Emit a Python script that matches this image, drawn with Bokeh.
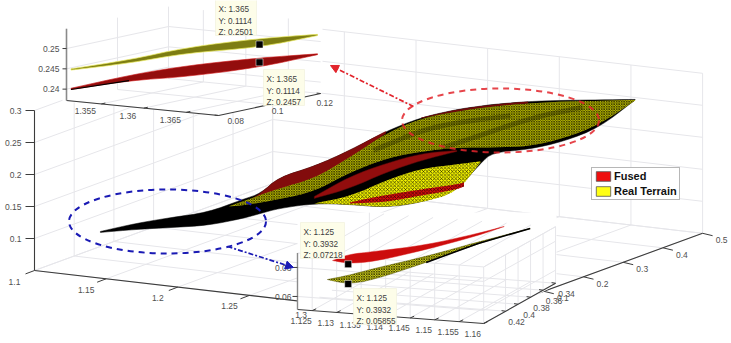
import numpy as np
from bokeh.plotting import figure
from bokeh.embed import file_html
from bokeh.resources import INLINE
from bokeh.core.properties import value
from bokeh.models import Arrow, NormalHead, Legend, LegendItem

# ---------- tick values ----------
MAIN_X = [1.1, 1.15, 1.2, 1.25, 1.3, 1.35, 1.4]
MAIN_Y = [-0.1, 0.0, 0.1, 0.2, 0.3, 0.4, 0.5]
MAIN_Z = [0.05, 0.1, 0.15, 0.2, 0.25, 0.3]
MAIN_X_LABELS = ["1.1", "1.15", "1.2", "1.25", "1.3"]
MAIN_Y_LABELS = {0.1: "0.1", 0.2: "0.2", 0.3: "0.3", 0.4: "0.4", 0.5: "0.5"}
MAIN_Z_LABELS = {0.1: "0.1", 0.15: "0.15", 0.2: "0.2", 0.25: "0.25", 0.3: "0.3"}

UP_X = [1.355, 1.36, 1.365]
UP_Y = [0.08, 0.1, 0.12]
UP_Z = [0.24, 0.245, 0.25]
UP_X_LABELS = ["1.355", "1.36", "1.365"]
UP_Y_LABELS = ["0.08", "0.1", "0.12"]
UP_Z_LABELS = ["0.24", "0.245", "0.25"]

LOW_X = [1.125, 1.13, 1.135, 1.14, 1.145, 1.15, 1.155, 1.16]
LOW_Y = [0.34, 0.36, 0.38, 0.4, 0.42]
LOW_Z = [0.06, 0.08]
LOW_X_LABELS = ["1.125", "1.13", "1.135", "1.14", "1.145", "1.15", "1.155", "1.16"]
LOW_Y_LABELS = ["0.34", "0.36", "0.38", "0.4", "0.42"]
LOW_Z_LABELS = ["0.06", "0.08"]

# ---------- main surface values (x, z along the sheet) ----------
sil_x = [1.10, 1.12, 1.14, 1.16, 1.18, 1.19, 1.20, 1.22, 1.24, 1.26, 1.28, 1.30, 1.3132, 1.32, 1.34, 1.36, 1.38, 1.40]
sil_top = [.0734, .0872, .0977, .1067, .1283, .1383, .1638, .1822, .2084, .2392, .2623, .2761, .2820, .2850, .2909, .2938, .2958, .2977]
sil_bot = [.0719, .0778, .0820, .0864, .0986, .1070, .1153, .1244, .1241, .1205, .1295, .1495, .1925, .2100, .2159, .2297, .2528, .2969]

olive_x = [1.172, 1.18, 1.20, 1.22, 1.24, 1.26, 1.28, 1.30, 1.32, 1.34, 1.36, 1.38, 1.40]
olive_top = [.1169, .1252, .1466, .1634, .1975, .2361, .2608, .2730, .2819, .2878, .2922, .2942, .2969]
olive_bot = [.1169, .1189, .1294, .1431, .1741, .1970, .2092, .2167, .2178, .2206, .2344, .2575, .2961]

hump_x = [1.18, 1.19, 1.20, 1.22, 1.24, 1.26]
hump_top = [.1205, .1383, .1638, .1822, .2084, .2392]
hump_bot = [.1205, .1336, .1450, .1619, .1959, .2361]

rim_x = [1.28, 1.30, 1.32, 1.34]
rim_top = [.2623, .2761, .2850, .2909]
rim_bot = [.2608, .2730, .2819, .2878]

band_x = [1.22, 1.24, 1.26, 1.28, 1.30]
band_top = [.1353, .1678, .1892, .2061, .2120]
band_bot = [.1322, .1491, .1752, .1952, .2105]

lobe_x = [1.22, 1.24, 1.26, 1.28, 1.30, 1.3132]
lobe_top = [.1244, .1366, .1627, .1827, .1902, .1956]
lobe_bot = [.1244, .1241, .1205, .1295, .1464, .1941]

stripe_x = [1.24, 1.26, 1.28, 1.30, 1.304]
stripe_top = [.1272, .1400, .1498, .1589, .1622]
stripe_bot = [.1256, .1288, .1405, .1511, .1559]

streak_a_x = [1.292, 1.3048, 1.3424, 1.3705]
streak_a_z = [.2159, .2280, .2661, .2834]
streak_b_x = [1.2532, 1.2801, 1.2998, 1.3301]
streak_b_z = [.2092, .2420, .2556, .2681]

# ---------- upper inset ----------
up_s_x = [1.352, 1.356, 1.36, 1.365, 1.369]
up_real_top = [.2441, .2463, .2494, .2516, .2526]
up_real_bot = [.2438, .2455, .2480, .2494, .2523]
up_fused_top = [.2393, .2425, .2449, .2468, .2478]
up_fused_bot = [.2390, .2412, .2422, .2445, .2476]

# ---------- lower inset ----------
low_f_x = [1.122, 1.125, 1.13, 1.14, 1.15, 1.155]
low_f_top = [.0747, .0789, .0809, .0854, .0934, .0982]
low_f_bot = [.0747, .0727, .0740, .0823, .0920, .0982]
low_r_x = [1.121, 1.125, 1.13, 1.14, 1.15, 1.16]
low_r_top = [.0616, .0644, .0692, .0775, .0875, .0968]
low_r_bot = [.0616, .0585, .0616, .0734, .0865, .0968]

# ---------- data tips ----------
TIP_X = ["1.365", "1.365", "1.125", "1.125"]
TIP_Y = ["0.1114", "0.1114", "0.3932", "0.3932"]
TIP_Z = ["0.2501", "0.2457", "0.07218", "0.05855"]

LEGEND_NAMES = ["Fused", "Real Terrain"]

FONT = value("Liberation Sans")
GRID = "#e6e6ea"
AXC = "#3c3c3c"
TXT = "#505050"
BLUE = "#1a1ab4"
RED = "#e2242c"


# ---------- projections of the three 3-D boxes ----------
def main_p(x, y, z):
    x, y, z = map(lambda v: np.asarray(v, float), (x, y, z))
    return (34 + 1433 * (x - 1.1) + 397 * (y + 0.1),
            270 + 166 * (x - 1.1) - 145 * (y + 0.1) - 640 * (z - 0.05))


def main_sheet(x, z):
    x = np.asarray(x, float)
    return main_p(x, 0.066 + 0.88 * (x - 1.1), z)


def up_p(x, y, z):
    x, y, z = map(lambda v: np.asarray(v, float), (x, y, z))
    return (66 + 8500 * (x - 1.3509) + 2550 * (y - 0.08),
            100 + 838 * (x - 1.3509) - 550 * (y - 0.08) - 4060 * (z - 0.2372))


def up_sheet(x, z):
    return (259 + 14500 * (np.asarray(x, float) - 1.365),
            44 - 4060 * (np.asarray(z, float) - 0.2501))


def low_p(x, y, z):
    x, y, z = map(lambda v: np.asarray(v, float), (x, y, z))
    return (297 + 4900 * (x - 1.122) - 625 * (y - 0.455),
            309 + 368 * (x - 1.122) + 350 * (y - 0.455) - 1450 * (z - 0.051))


def low_sheet(x, z):
    return (347.7 + 5200 * (np.asarray(x, float) - 1.125),
            263.7 - 1450 * (np.asarray(z, float) - 0.07218))


def soften(sx, sy, rounds=2):
    """Round the corners of a drawn outline; its end points stay where they are."""
    a = np.column_stack([sx, sy])
    for _ in range(rounds):
        q = 0.75 * a[:-1] + 0.25 * a[1:]
        r = 0.25 * a[:-1] + 0.75 * a[1:]
        mid = np.empty((2 * len(q), 2))
        mid[0::2], mid[1::2] = q, r
        a = np.vstack([a[:1], mid, a[-1:]])
    return a[:, 0], a[:, 1]


p = figure(width=731, height=343, x_range=(0, 731), y_range=(343, 0),
           output_backend="svg", toolbar_location=None, min_border=0,
           background_fill_color="white", outline_line_color=None,
           styles={"position": "absolute", "left": "0px", "top": "0px"})
p.axis.visible = False
p.grid.visible = False


def segs(proj, pairs, color=GRID, width=1.0):
    xs, ys = [], []
    for a, b in pairs:
        sa, sb = proj(*a), proj(*b)
        xs.append([float(sa[0]), float(sb[0])])
        ys.append([float(sa[1]), float(sb[1])])
    p.multi_line(xs, ys, line_color=color, line_width=width)


def labels(xs, ys, texts, align="center", size="8.5px", color=TXT):
    p.text(x=list(map(float, xs)), y=list(map(float, ys)), text=list(texts),
           text_font=FONT, text_font_size=value(size), text_color=color,
           text_align=align, text_baseline="middle")


def band(proj, x, top, bot, **kw):
    sx1, sy1 = soften(*proj(x, top))
    sx2, sy2 = soften(*proj(x, bot))
    return p.patch(np.r_[sx1, sx2[::-1]], np.r_[sy1, sy2[::-1]], **kw)


MESH_FINE = dict(hatch_pattern="diagonal_cross", hatch_color="#2a2a00", hatch_scale=2.5, hatch_weight=0.75)
MESH_WIDE = dict(hatch_pattern="diagonal_cross", hatch_color="black", hatch_scale=3.6, hatch_weight=0.6)

# ---------- main box ----------
x0, x1, y0, y1, z0, z1 = MAIN_X[0], MAIN_X[-1], MAIN_Y[0], MAIN_Y[-1], MAIN_Z[0], MAIN_Z[-1]
grid = []
for v in MAIN_X:
    grid += [((v, y0, z0), (v, y1, z0)), ((v, y1, z0), (v, y1, z1))]
for v in MAIN_Y:
    grid += [((x0, v, z0), (x1, v, z0)), ((x0, v, z0), (x0, v, z1))]
for v in MAIN_Z:
    grid += [((x0, y0, v), (x0, y1, v)), ((x0, y1, v), (x1, y1, v))]
segs(main_p, grid)
segs(main_p, [((x0, y0, z0), (x1, y0, z0)), ((x1, y0, z0), (x1, y1, z0)), ((x0, y0, z0), (x0, y0, z1))], AXC, 1.1)

zt = list(MAIN_Z_LABELS)
sx, sy = main_p([x0] * len(zt), [y0] * len(zt), zt)
p.segment(sx, sy, sx - 9, sy, line_color=AXC, line_width=1)
labels(sx - 13, sy, MAIN_Z_LABELS.values(), align="right")

xt = MAIN_X[:5]
sx, sy = main_p(xt, [y0] * 5, [z0] * 5)
p.segment(sx, sy, sx - 9, sy + 3.4, line_color=AXC, line_width=1)
labels(sx - 20, sy + 11, MAIN_X_LABELS)

yt = list(MAIN_Y_LABELS)
sx, sy = main_p([x1] * len(yt), yt, [z0] * len(yt))
p.segment(sx, sy, sx + 10, sy + 2.4, line_color=AXC, line_width=1)
labels(sx + 19, sy + 7, MAIN_Y_LABELS.values())

# ---------- lower inset box ----------
p.patch([297, 556, 556, 483, 297], [212, 212, 284, 324, 310], fill_color="white", line_color=None)
lx0, lx1, ly0, ly1, lz0, lz1 = 1.122, LOW_X[-1], LOW_Y[0], 0.455, 0.051, 0.09
grid = []
for v in LOW_X:
    grid += [((v, ly1, lz0), (v, ly1, lz1)), ((v, ly0, lz0), (v, ly1, lz0)), ((v, ly0, lz1), (v, ly1, lz1))]
for v in LOW_Z:
    grid += [((lx0, ly1, v), (lx1, ly1, v)), ((lx1, ly0, v), (lx1, ly1, v))]
for v in LOW_Y:
    grid += [((lx0, v, lz0), (lx1, v, lz0)), ((lx1, v, lz0), (lx1, v, lz1))]
grid += [((lx0, ly1, lz1), (lx1, ly1, lz1)), ((lx1, ly0, lz1), (lx1, ly1, lz1)), ((lx0, ly0, lz0), (lx0, ly0, lz1))]
segs(low_p, grid)
segs(low_p, [((lx0, ly1, lz0), (lx1, ly1, lz0)), ((lx1, ly0, lz0), (lx1, ly1, lz0))], AXC, 1.1)
segs(low_p, [((lx0, ly1, lz0), (lx0, ly1, lz1))], "#8a8a8a", 1.4)

sx, sy = low_p([lx0, lx0], [ly1, ly1], LOW_Z)
p.segment(sx, sy, sx - 5, sy, line_color=AXC, line_width=1)
labels(sx - 6, sy + 1, LOW_Z_LABELS, align="right")
sx, sy = low_p(LOW_X, [ly1] * 8, [lz0] * 8)
p.segment(sx, sy, sx + 4, sy - 1.8, line_color=AXC, line_width=1)
labels(sx - 11, sy + 10.5, LOW_X_LABELS)
sx, sy = low_p([lx1] * 5, LOW_Y, [lz0] * 5)
p.segment(sx, sy, sx - 4, sy - 0.6, line_color=AXC, line_width=1)
labels(sx + 11, sy + 11, LOW_Y_LABELS)

# ---------- upper inset box ----------
p.patch([62, 322, 322, 218, 62], [0, 0, 92, 115, 101], fill_color="white", line_color=None)
ux0, ux1, uy0, uy1, uz0, uz1 = 1.3509, 1.3688, UP_Y[0], UP_Y[-1], 0.2372, 0.2549
grid = []
for v in UP_X:
    grid += [((v, uy0, uz0), (v, uy1, uz0)), ((v, uy1, uz0), (v, uy1, uz1))]
for v in UP_Y:
    grid += [((ux0, v, uz0), (ux1, v, uz0)), ((ux0, v, uz0), (ux0, v, uz1))]
for v in UP_Z:
    grid += [((ux0, uy0, v), (ux0, uy1, v)), ((ux0, uy1, v), (ux1, uy1, v))]
segs(up_p, grid)
segs(up_p, [((ux0, uy0, uz0), (ux1, uy0, uz0)), ((ux1, uy0, uz0), (ux1, uy1, uz0))], AXC, 1.1)
segs(up_p, [((ux0, uy0, uz0), (ux0, uy0, uz1))], "#8a8a8a", 1.6)

sx, sy = up_p([ux0] * 3, [uy0] * 3, UP_Z)
p.segment(sx, sy, sx - 4, sy, line_color=AXC, line_width=1)
labels(sx - 7, sy, UP_Z_LABELS, align="right")
sx, sy = up_p(UP_X, [uy0] * 3, [uz0] * 3)
p.segment(sx, sy, sx + 4, sy - 0.9, line_color=AXC, line_width=1)
labels(sx - 16, sy + 7.5, UP_X_LABELS)
sx, sy = up_p([ux1] * 3, UP_Y, [uz0] * 3)
p.segment(sx, sy, sx - 4, sy - 0.4, line_color=AXC, line_width=1)
labels(sx + np.array([17, 8, 4]), sy + np.array([5, 6, 9]), UP_Y_LABELS)

# ---------- inset surfaces ----------
band(up_sheet, up_s_x, up_real_top, up_real_bot, fill_color="#7d7d12", line_color="#e9e95a", line_width=0.7)
band(up_sheet, up_s_x, up_fused_top, up_fused_bot, fill_color="#930d0d", line_color="#d01616", line_width=0.6)
sx, sy = up_sheet(up_s_x[:2], up_fused_bot[:2])
p.line(sx, sy, line_color="black", line_width=1.1)
band(low_sheet, low_f_x, low_f_top, low_f_bot, fill_color="#cc0d0d", line_color="#d81818", line_width=0.5)
band(low_sheet, low_r_x, low_r_top, low_r_bot, fill_color="#d2d21a", line_color="#55550a", line_width=0.5, **MESH_FINE)
sx, sy = low_sheet(low_r_x[3:], low_r_bot[3:])
p.line(sx, sy, line_color="black", line_width=1.5)

# ---------- main surface ----------
band(main_sheet, sil_x, sil_top, sil_bot, fill_color="black", line_color="black", line_width=0.5)
band(main_sheet, hump_x, hump_top, hump_bot, fill_color="#820c0c", line_color="#820c0c", line_width=0.5)
band(main_sheet, rim_x, rim_top, rim_bot, fill_color="#6e0a0a", line_color=None)
band(main_sheet, olive_x, olive_top, olive_bot, fill_color="#b8b800", line_color=None, **MESH_FINE)
for sxz in ((streak_a_x, streak_a_z), (streak_b_x, streak_b_z)):
    sx, sy = soften(*main_sheet(*sxz))
    p.line(sx, sy, line_color="black", line_alpha=0.25, line_width=5)
band(main_sheet, band_x, band_top, band_bot, fill_color="#920d0d", line_color="#5c0808", line_width=0.5)
band(main_sheet, lobe_x, lobe_top, lobe_bot, fill_color="#f5f500", line_color=None, **MESH_WIDE)
band(main_sheet, stripe_x, stripe_top, stripe_bot, fill_color="#d90d0d", line_color=None, **MESH_WIDE)

# ---------- callouts ----------
p.ellipse(x=[500], y=[120], width=197, height=64, fill_color=None, line_color=RED, line_width=2, line_dash="6 5", line_alpha=0.85)
p.ellipse(x=[167], y=[221], width=197, height=64, fill_color=None, line_color=BLUE, line_width=2, line_dash="6 5")
p.add_layout(Arrow(end=NormalHead(size=8, fill_color=RED, line_color=RED), x_start=413, y_start=106, x_end=330, y_end=65,
                   line_color=RED, line_width=1.7, line_dash="5 2 2 2"))
p.add_layout(Arrow(end=NormalHead(size=8, fill_color=BLUE, line_color=BLUE), x_start=227, y_start=246, x_end=293, y_end=267,
                   line_color=BLUE, line_width=1.7, line_dash="5 2 2 2"))

# ---------- data tips ----------
mx, my = up_sheet([float(TIP_X[0]), float(TIP_X[1])], [float(TIP_Z[0]), float(TIP_Z[1])])
nx, ny = low_sheet([float(TIP_X[2]), float(TIP_X[3])], [float(TIP_Z[2]), float(TIP_Z[3])])
marker_x, marker_y = np.r_[mx, nx], np.r_[my, ny]
p.scatter(marker_x, marker_y, marker="square", size=7, fill_color="black", line_color="white", line_width=0.5)

tip_left = [215, 263, 300, 353]
tip_top = [-1, 69, 222, 288]
tip_w = [41, 41, 44, 43]
for i in range(4):
    p.quad(left=[tip_left[i]], right=[tip_left[i] + tip_w[i]], top=[tip_top[i]], bottom=[tip_top[i] + 36],
           fill_color="#fdfde9", line_color="#f0f0dc", line_width=0.7)
    labels([tip_left[i] + 3] * 3, [tip_top[i] + 10, tip_top[i] + 21.5, tip_top[i] + 32.5],
           [f"X: {TIP_X[i]}", f"Y: {TIP_Y[i]}", f"Z: {TIP_Z[i]}"], align="left", size="8.2px", color="#404040")

# ---------- legend ----------
nan = [float("nan")]
r_f = p.quad(left=nan, right=nan, top=nan, bottom=nan, fill_color="#ee0f0f", line_color="#555555", line_width=0.8)
r_r = p.quad(left=nan, right=nan, top=nan, bottom=nan, fill_color="#ffff14", line_color="#555555", line_width=0.8)
leg = Legend(items=[LegendItem(label=value(LEGEND_NAMES[0]), renderers=[r_f]),
                    LegendItem(label=value(LEGEND_NAMES[1]), renderers=[r_r])],
             location=(591, 143), margin=0, padding=2, spacing=3, glyph_width=18, glyph_height=12,
             label_standoff=2, label_height=12, label_text_font="Liberation Sans", label_text_font_size="11px",
             label_text_font_style="bold", label_text_color="#111111",
             border_line_color="#707070", border_line_width=1, background_fill_alpha=1)
p.add_layout(leg)

open("out.html", "w").write(file_html(p, INLINE))
